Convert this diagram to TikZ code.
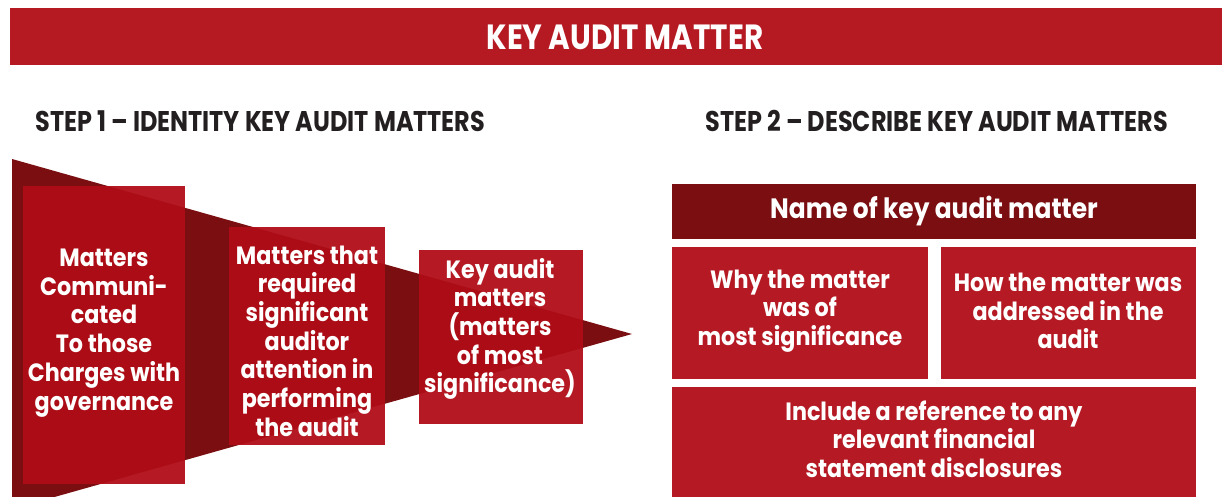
\documentclass[tikz,border=0pt]{standalone}
\usepackage{fontspec}
\setmainfont{Poppins}
\newfontfamily\bodyfont{Poppins}[FakeStretch=0.89]
\newfontfamily\capsfont{Poppins}[FakeStretch=0.84]
\definecolor{kamred}{HTML}{B00C16}
\definecolor{kamdark}{HTML}{7A0E10}
\definecolor{kamhead}{HTML}{B51A22}
\definecolor{kamgray}{HTML}{231F20}
\begin{document}
\begin{tikzpicture}[x=1pt,y=-1pt,
  boxstyle/.style={fill=kamred,fill opacity=0.94,text opacity=1,draw=none,inner sep=0pt},
  boxtext/.style={text=white,font=\bodyfont\bfseries\fontsize{25}{28.7}\selectfont,align=center},
  steptitle/.style={text=kamgray,font=\capsfont\bfseries\fontsize{28.5}{32}\selectfont,anchor=base west}]
\useasboundingbox (0,0) rectangle (1227,497);
\clip (0,0) rectangle (1227,497);

% title bar
\fill[kamhead] (10,8) rectangle (1222,65);
\node[text=white,font=\capsfont\bfseries\fontsize{35}{38}\selectfont] (title) at (625,37) {KEY AUDIT MATTER};

% step headings
\node[steptitle] (s1) at (32,132) {STEP 1 – IDENTITY KEY AUDIT MATTERS};
\node[steptitle] (s2) at (702,132) {STEP 2 – DESCRIBE KEY AUDIT MATTERS};

% funnel
\fill[kamdark] (12,159) -- (632,334) -- (12,509) -- cycle;
\fill[boxstyle] (23,186) rectangle (185,484);
\fill[boxstyle] (229,227) rectangle (385,445);
\fill[boxstyle] (419,250) rectangle (583,424);
\node[boxtext] (f1) at (104,333) {Matters\\Communi-\\cated\\To those\\Charges with\\governance};
\node[boxtext] (f2) at (307,341) {Matters that\\required\\significant\\auditor\\attention in\\performing\\the audit};
\node[boxtext] (f3) at (500,329) {Key audit\\matters\\(matters\\of most\\significance)};

% description grid
\fill[kamdark] (672,184) rectangle (1196,239);
\fill[boxstyle] (672,247) rectangle (928,379);
\fill[boxstyle] (941,247) rectangle (1196,379);
\fill[boxstyle] (672,387) rectangle (1196,505);
\node[boxtext,font=\bodyfont\bfseries\fontsize{28}{30}\selectfont] (d0) at (934,211) {Name of key audit matter};
\node[boxtext] (d1) at (800,311) {Why the matter\\was of\\most significance};
\node[boxtext] (d2) at (1068,311) {How the matter was\\addressed in the\\audit};
\node[boxtext] (d3) at (934,439) {Include a reference to any\\relevant financial\\statement disclosures};
\end{tikzpicture}
\end{document}
